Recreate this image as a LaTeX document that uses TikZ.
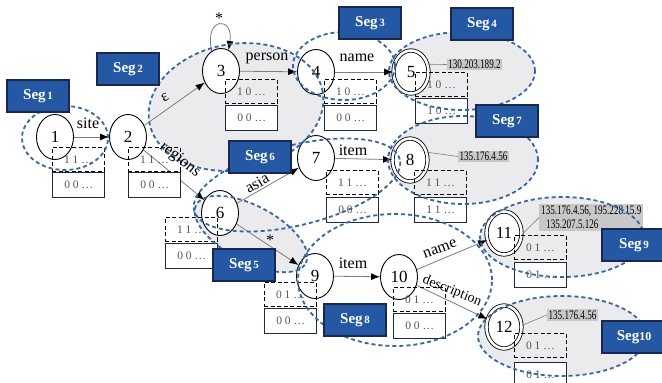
\documentclass[tikz,border=0pt]{standalone}
\usepackage{fontspec}
\setmainfont{Liberation Serif}
\usepackage{graphicx}
\usetikzlibrary{arrows.meta,shapes.geometric}
\definecolor{segblue}{RGB}{36,88,165}
\definecolor{segdark}{RGB}{24,40,78}
\definecolor{dashblue}{RGB}{52,102,170}
\definecolor{regiongray}{RGB}{235,235,238}
\definecolor{edgegray}{RGB}{125,125,125}
\definecolor{boxnavy}{RGB}{28,42,70}
\definecolor{taggray}{RGB}{200,200,200}
\definecolor{boxtext}{RGB}{85,85,85}
\newcommand{\segtxt}[1]{{\fontsize{15}{15}\selectfont Seg}\,{\fontsize{11}{11}\selectfont #1}}
\newcommand{\iptxt}[1]{\scalebox{0.7}[1]{#1}}
\begin{document}
\begin{tikzpicture}[x=1pt,y=-1pt,
  st/.style={ellipse, draw=black, line width=0.9pt, fill=white, minimum width=37pt, minimum height=45pt, inner sep=0pt, font=\fontsize{17}{17}\selectfont},
  acc/.style={st, double=white, double distance=2.6pt, line width=0.8pt, minimum width=35pt, minimum height=43pt},
  dbox/.style={draw=black, dash pattern=on 4pt off 2.5pt, line width=0.9pt, minimum width=52pt, minimum height=24pt, inner sep=0pt, anchor=north west, text=boxtext, font=\fontsize{11.5}{11.5}\selectfont},
  sbox/.style={draw=boxnavy, line width=1.4pt, fill=white, minimum width=52pt, minimum height=25pt, inner sep=0pt, anchor=north west, text=boxtext, font=\fontsize{11.5}{11.5}\selectfont},
  seg/.style={fill=segblue, draw=segdark, line width=1.3pt, text=white, font=\bfseries, minimum width=62pt, minimum height=32pt, inner sep=0pt},
  region/.style={draw=dashblue, line width=1.8pt, dash pattern=on 4pt off 3pt},
  arr/.style={draw=edgegray, line width=0.8pt, -{Latex[length=9pt,width=7pt,color=black]}},
  lab/.style={font=\fontsize{16}{16}\selectfont, inner sep=1pt},
  ip/.style={fill=taggray, inner sep=1.5pt, font=\fontsize{13}{13}\selectfont},
  tagline/.style={draw=edgegray, line width=0.6pt}
]
\clip (0,0) rectangle (662,383);
\fill[white] (0,0) rectangle (662,383);

% gray regions
\fill[regiongray, rotate around={10:(236,107)}] (236,107) ellipse [x radius=88pt, y radius=63pt];
\fill[regiongray] (462,71) ellipse [x radius=73pt, y radius=39pt];
\fill[regiongray] (463,160) ellipse [x radius=75pt, y radius=44pt];
\fill[regiongray, rotate around={-28:(251,234)}] (251,234) ellipse [x radius=62pt, y radius=28pt];
\fill[regiongray] (562,237) ellipse [x radius=82pt, y radius=40pt];
\fill[regiongray] (562,336) ellipse [x radius=84pt, y radius=40pt];

% states
\node[st] (n1) at (55,137) {1};
\node[st] (n2) at (128,137) {2};
\node[st] (n3) at (221,71) {3};
\node[st] (n4) at (316,72) {4};
\node[acc] (n5) at (411,72) {5};
\node[st] (n6) at (220,213) {6};
\node[st] (n7) at (316,158) {7};
\node[acc] (n8) at (410,160) {8};
\node[st] (n9) at (315,276) {9};
\node[st] (n10) at (399,277) {10};
\node[acc] (n11) at (504,233) {11};
\node[acc] (n12) at (504,327) {12};

% transitions
\draw[arr] (n1) -- (n2);
\draw[arr] (n2) -- (n3);
\draw[arr] (n3.115) .. controls (204,16) and (234,16) .. (n3.70);
\draw[arr] (n3) -- (n4);
\draw[arr] (n4) -- (n5);
\draw[arr] (n2) -- (n6);
\draw[arr] (n6) -- (n7);
\draw[arr] (n6) -- (n9);
\draw[arr] (n7) -- (n8);
\draw[arr] (n9) -- (n10);
\draw[arr] (n10) -- (n11);
\draw[arr] (n10) -- (n12);

% ip tags
\node[ip] (ip5) at (474.5,64.5) {\iptxt{130.203.189.2}};
\node[ip] (ip8) at (483.5,156.5) {\iptxt{135.176.4.56}};
\node[ip, anchor=north west, align=left, inner sep=2pt] (ip11) at (539,204) {\iptxt{135.176.4.56, 195.228.15.9}\\[1pt]\hspace*{5pt}\iptxt{135.207.5.126}};
\node[ip] (ip12) at (572.5,315) {\iptxt{135.176.4.56}};
\draw[tagline] (n5.25) -- (ip5.west);
\draw[tagline] (n8.25) -- (ip8.west);
\draw[tagline] (n11.-5) -- (ip11.west);
\draw[tagline] (n12.5) -- (ip12.west);

% bit boxes
\node[dbox] (d1) at (52,147) {1 1 \ldots};
\node[sbox] (s1) at (52,172) {0 0 \ldots};
\node[dbox] (d2) at (128,147) {1 1 \ldots};
\node[sbox] (s2) at (128,172) {0 0 \ldots};
\node[dbox] (d3) at (225,79) {1 0 \ldots};
\node[sbox] (s3) at (225,105) {0 0 \ldots};
\node[dbox] (d4) at (324,79) {1 0 \ldots};
\node[sbox] (s4) at (324,105) {0 0 \ldots};
\node[dbox] (d5) at (415,72) {1 0 \ldots};
\node[sbox] (s5) at (415,98) {1 0 \ldots};
\node[dbox] (d7) at (326,170) {1 1 \ldots};
\node[sbox] (s7) at (326,197) {0 0 \ldots};
\node[dbox] (d8) at (414,170) {1 1 \ldots};
\node[sbox] (s8) at (414,197) {1 1 \ldots};
\node[dbox] (d6) at (165,217) {1 1 \ldots};
\node[sbox] (s6) at (165,243) {0 0 \ldots};
\node[dbox] (d9) at (264,282) {0 1 \ldots};
\node[sbox] (s9) at (264,308) {0 0 \ldots};
\node[dbox] (d10) at (393,287) {0 1 \ldots};
\node[sbox] (s10) at (393,313) {0 0 \ldots};
\node[dbox] (d11) at (514,235) {0 1 \ldots};
\node[sbox] (s11) at (514,262) {0 1 \ldots};
\node[dbox] (d12) at (514,333) {0 1 \ldots};
\node[sbox] (s12) at (514,362) {0 1 \ldots};

% segment outlines
\draw[region] (65,138) ellipse [x radius=43pt, y radius=32pt];
\draw[region, rotate around={10:(236,107)}] (236,107) ellipse [x radius=88pt, y radius=63pt];
\draw[region] (344,66) ellipse [x radius=51pt, y radius=34pt];
\draw[region] (462,71) ellipse [x radius=73pt, y radius=39pt];
\draw[region, rotate around={-28:(251,234)}] (251,234) ellipse [x radius=62pt, y radius=28pt];
\draw[region, rotate around={14:(297,185)}] (297,185) ellipse [x radius=106pt, y radius=40pt];
\draw[region] (463,160) ellipse [x radius=75pt, y radius=44pt];
\draw[region] (395,280) ellipse [x radius=97pt, y radius=66pt];
\draw[region] (562,237) ellipse [x radius=82pt, y radius=40pt];
\draw[region] (562,336) ellipse [x radius=84pt, y radius=40pt];

% transition labels
\node[lab] (t12) at (88,123) {site};
\node[lab, rotate=32] (t23) at (165,98) {ε};
\node[lab] (t33) at (219,18) {*};
\node[lab] (t34) at (267,58) {person};
\node[lab] (t45) at (357,58) {name};
\node[lab, rotate=-38] (t26) at (180,160) {regions};
\node[lab, rotate=30] (t67) at (257,183) {asia};
\node[lab] (t69) at (270,240) {*};
\node[lab] (t78) at (353,150) {item};
\node[lab] (t910) at (353,263) {item};
\node[lab, rotate=20] (t1011) at (440,249) {name};
\node[lab, rotate=-22, font=\fontsize{14}{14}\selectfont] (t1012) at (452,291) {description};

% segment labels
\node[seg] (g1) at (38,96) {\segtxt{1}};
\node[seg] (g2) at (128,69) {\segtxt{2}};
\node[seg] (g3) at (370,23) {\segtxt{3}};
\node[seg] (g4) at (482,24) {\segtxt{4}};
\node[seg] (g7) at (507,121) {\segtxt{7}};
\node[seg] (g6) at (260,157) {\segtxt{6}};
\node[seg] (g5) at (244,265) {\segtxt{5}};
\node[seg] (g8) at (355,320) {\segtxt{8}};
\node[seg, minimum width=64pt] (g9) at (634,245) {\segtxt{9}};
\node[seg, minimum width=64pt] (g10) at (634,337) {{\fontsize{15}{15}\selectfont Seg}{\fontsize{12}{12}\selectfont 10}};
\end{tikzpicture}
\end{document}
